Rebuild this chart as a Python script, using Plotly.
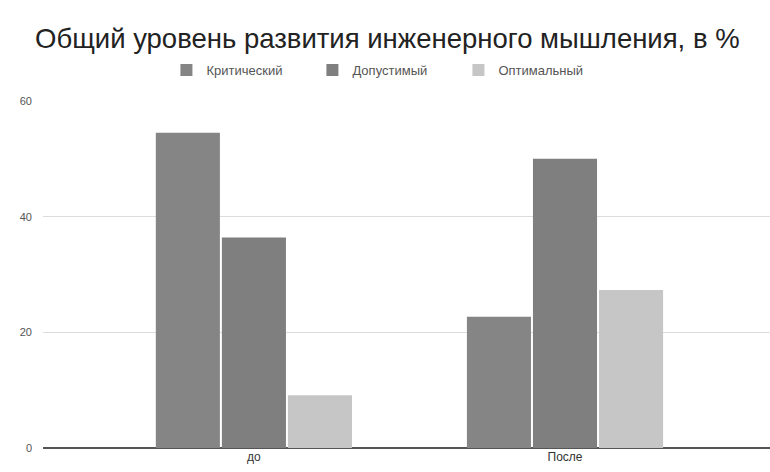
import plotly.graph_objects as go

categories = ["до", "После"]
series_names = ["Критический", "Допустимый", "Оптимальный"]
kritich = [54.5, 22.7]
dopust = [36.4, 50.0]
optim = [9.1, 27.3]
colors = ["#858585", "#7f7f7f", "#c6c6c6"]
y_ticks = [0, 20, 40, 60]

fig = go.Figure()
for name, vals, col in zip(series_names, [kritich, dopust, optim], colors):
    fig.add_trace(go.Bar(x=categories, y=vals, name=name, marker_color=col,
                         marker_line_width=0))

fig.update_layout(
    width=770, height=472,
    margin=dict(l=43, r=0, t=101, b=24),
    paper_bgcolor="white", plot_bgcolor="white",
    barmode="group", bargap=0.363, bargroupgap=0.03,
    font=dict(family="Liberation Sans, Arial, sans-serif", color="#444"),
    title=dict(text="Общий уровень развития инженерного мышления, в %",
               x=0.503, xanchor="center", y=1 - 38/472, yanchor="middle",
               font=dict(size=27.5, color="#222")),
    legend=dict(orientation="h", x=0.471, xanchor="center", y=1 + 31/347, yanchor="middle",
                font=dict(size=13, color="#555"), itemwidth=30, traceorder="normal",
                entrywidth=101, entrywidthmode="pixels"),
    showlegend=True,
)
fig.update_xaxes(type="category", range=[-0.678, 1.659], showgrid=False,
                 tickfont=dict(size=12, color="#333"), ticks="", showline=False)
fig.update_yaxes(range=[0, 60], tickvals=y_ticks, showgrid=True, gridcolor="#dcdcdc",
                 gridwidth=1, zeroline=True, zerolinecolor="#555", zerolinewidth=1.5,
                 tickfont=dict(size=11, color="#555"), ticklabelstandoff=10, ticks="")

fig.write_html("out.html")
